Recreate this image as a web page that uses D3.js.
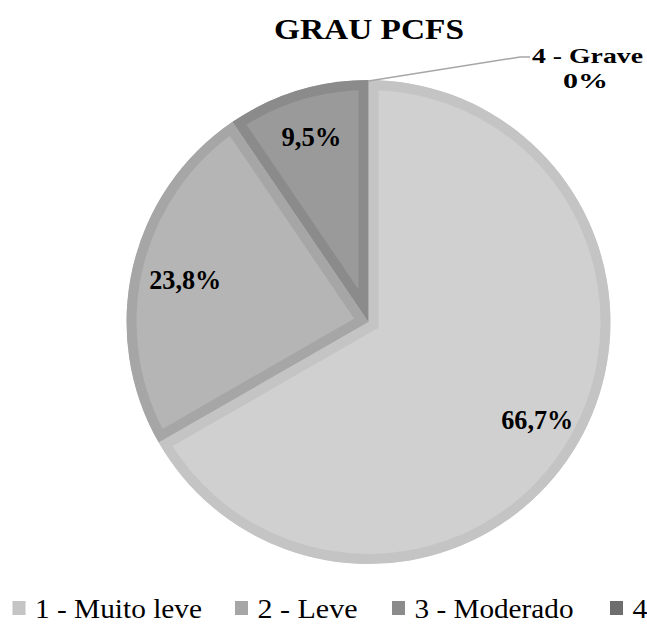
<!DOCTYPE html>
<html>
<head>
<meta charset="utf-8">
<script src="https://cdn.jsdelivr.net/npm/d3@7"></script>
<style>
  html, body { margin: 0; padding: 0; background: #fff; }
</style>
</head>
<body>
<svg id="chart" width="647" height="631"></svg>
<script>
const title = "GRAU PCFS";
const categories = ["1 - Muito leve", "2 - Leve", "3 - Moderado", "4 - Grave"];
const legendLabels = ["1 - Muito leve", "2 - Leve", "3 - Moderado", "4"];
const values = [66.7, 23.8, 9.5, 0];
const valueLabels = ["66,7%", "23,8%", "9,5%", "0%"];
const fills = ["#d0d0d0", "#b5b5b5", "#9a9a9a", "#7a7a7a"];
const borders = ["#c4c4c4", "#a6a6a6", "#8b8b8b", "#6e6e6e"];

const svg = d3.select("#chart");
const cx = 368.5, cy = 322, R = 242, inset = 10;
const FONT = "'Liberation Serif', 'Times New Roman', 'DejaVu Serif', serif";

function txt(sel) {
  return sel.append("text").style("font-family", FONT).attr("fill", "#000");
}

txt(svg)
  .attr("x", 369).attr("y", 39)
  .attr("text-anchor", "middle")
  .attr("font-size", 29).attr("font-weight", "bold")
  .attr("textLength", 190).attr("lengthAdjust", "spacingAndGlyphs")
  .text(title);

const pie = d3.pie().sort(null).value(d => d)(values);
const arc = d3.arc().innerRadius(0).outerRadius(R);
const defs = svg.append("defs");

pie.forEach((p, i) => {
  if (p.endAngle - p.startAngle <= 0) return;
  const id = "clip" + i;
  defs.append("clipPath").attr("id", id)
    .append("path").attr("transform", `translate(${cx},${cy})`).attr("d", arc(p));
  svg.append("g").attr("clip-path", `url(#${id})`)
    .append("path")
    .attr("transform", `translate(${cx},${cy})`)
    .attr("d", arc(p))
    .attr("fill", fills[i])
    .attr("stroke", borders[i])
    .attr("stroke-width", inset * 2)
    .attr("stroke-linejoin", "miter");
});

// data labels
const labelR = [195, 188, 194];
const labelW = [72, 72, 60];
pie.forEach((p, i) => {
  if (p.value <= 0) return;
  const la = d3.arc().innerRadius(labelR[i]).outerRadius(labelR[i]);
  const [x, y] = la.centroid(p);
  txt(svg)
    .attr("x", cx + x).attr("y", cy + y)
    .attr("dy", "0.35em")
    .attr("text-anchor", "middle")
    .attr("font-size", 27).attr("font-weight", "bold")
    .attr("textLength", labelW[i]).attr("lengthAdjust", "spacingAndGlyphs")
    .text(valueLabels[i]);
});

// zero slice label with leader line
const zero = pie[3];
const topPt = [cx + R * Math.sin(zero.startAngle), cy - R * Math.cos(zero.startAngle)];
svg.append("polyline")
  .attr("points", [[topPt[0], topPt[1] + 1], [520, 57], [530, 57]].map(d => d.join(",")).join(" "))
  .attr("fill", "none").attr("stroke", "#a6a6a6").attr("stroke-width", 1.5);
txt(svg)
  .attr("x", 587.5).attr("y", 63)
  .attr("text-anchor", "middle")
  .attr("font-size", 22).attr("font-weight", "bold")
  .attr("textLength", 111).attr("lengthAdjust", "spacingAndGlyphs")
  .text(categories[3]);
txt(svg)
  .attr("x", 585.5).attr("y", 88)
  .attr("text-anchor", "middle")
  .attr("font-size", 22).attr("font-weight", "bold")
  .attr("textLength", 45).attr("lengthAdjust", "spacingAndGlyphs")
  .text(valueLabels[3]);

// legend
const legendX = [12.5, 235, 392, 610];
const legendW = [167, 100, 159, 15];
const lg = svg.append("g");
legendLabels.forEach((t, i) => {
  lg.append("rect")
    .attr("x", legendX[i]).attr("y", 601)
    .attr("width", 13).attr("height", 14)
    .attr("fill", borders[i]);
  txt(lg)
    .attr("x", legendX[i] + 22.5).attr("y", 618)
    .attr("font-size", 28)
    .attr("textLength", legendW[i]).attr("lengthAdjust", "spacingAndGlyphs")
    .text(t);
});
</script>
</body>
</html>
